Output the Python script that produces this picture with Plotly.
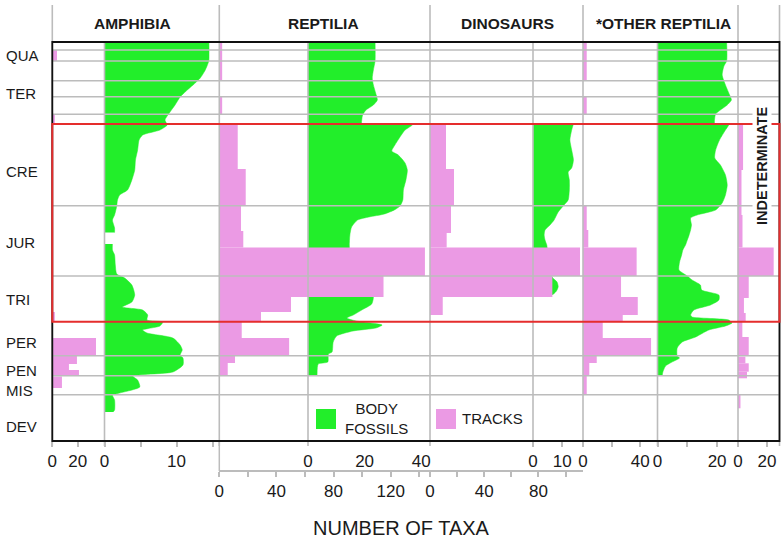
import plotly.graph_objects as go

FIG_W, FIG_H = 782, 543
FONT = "Liberation Sans, Arial, Helvetica, sans-serif"
GREEN = "#22ee2a"
PINK = "#eb9ae4"
GRID = "#bcbcbc"
RED = "#e52d2d"
INK = "#1a1a1a"

# ---------------- stratigraphic column (level 0 = top, 399 = base) ----------------
periods = ["QUA", "TER", "CRE", "JUR", "TRI", "PER", "PEN", "MIS", "DEV"]
period_label_levels = [13.5, 51, 129.5, 200.5, 257, 300.5, 328, 348, 384.5]
interval_boundaries = [8, 19, 38.7, 54.7, 72.3, 163.7, 234, 313.7, 333.7, 352.7]
mesozoic_top = 82
mesozoic_base = 279.7
column_base = 399

# ---------------- body fossils: number of taxa through the column ----------------
amphibia_body_levels_upper = [0, 18, 21, 28, 36, 43, 48, 55, 63, 70, 78, 83, 88, 93, 98, 108, 118, 128,
                              138, 148, 153, 158, 164, 173, 178, 186, 190.5]
amphibia_body_upper = [14.5, 14.5, 14.4, 14.0, 13.3, 12.3, 11.5, 10.5, 9.8, 9.1, 8.4, 8.7, 7.7, 5.3, 4.8,
                       4.6, 4.3, 4.2, 3.8, 3.2, 2.1, 1.8, 1.7, 1.4, 1.1, 1.4, 1.4]
amphibia_body_levels_lower = [202, 208, 213, 223, 232, 236, 243, 253, 260, 265, 268, 273, 278, 280, 284,
                              288, 291, 296, 303, 308, 313, 316, 323, 330, 334, 338, 345, 351, 353, 358,
                              368, 370]
amphibia_body_lower = [1.1, 1.1, 1.4, 1.5, 1.7, 2.8, 3.8, 4.2, 3.8, 2.5, 5.3, 6.0, 5.9, 8.1, 7.7, 5.3, 5.9,
                       9.5, 10.5, 10.8, 10.5, 10.9, 10.9, 9.5, 3.9, 4.6, 4.9, 2.1, 1.1, 1.4, 1.4, 1.2]

reptilia_body_levels = [0, 19, 28, 36, 43, 51, 58, 63, 68, 73, 78, 81.5, 82.5, 88, 95, 103, 109, 113, 121,
                        128, 138, 148, 158, 164, 168, 172, 175, 178, 185, 193, 204, 215, 230, 240, 255,
                        262, 268, 273, 276, 279, 283, 286, 289, 294, 300, 310, 312, 320, 322, 333]
reptilia_body = [23.7, 23.7, 23.1, 22.7, 23.1, 23.9, 24.5, 23.1, 20.5, 19.3, 19.0, 19.0, 37, 34.3, 32.5,
                 30.7, 29.6, 31.9, 34.3, 35.1, 34.6, 33.7, 33.5, 32.5, 30.5, 27, 21.5, 17.5, 15.4, 14.8,
                 14.6, 15, 17, 21, 23.1, 22.5, 19, 16, 13.7, 17, 26.2, 24, 15.9, 10.1, 8.9, 8.5, 7.2, 7.0,
                 3.6, 3.2]

dinosaur_body_levels = [82, 88, 98, 108, 118, 126, 130, 138, 148, 158, 164, 170, 178, 183, 188, 193, 198,
                        203, 210, 220, 230, 236, 240, 244.7, 249, 252, 254.5]
dinosaur_body = [13.8, 13.2, 12.6, 13.2, 13.8, 13.2, 12.0, 12.4, 12.4, 12.0, 10.3, 8.6, 7.2, 5.8, 4.1, 3.8,
                 4.1, 4.7, 5.0, 5.0, 5.5, 6.8, 8.2, 8.6, 8.0, 7.0, 5.0]

other_body_levels = [0, 19, 24, 33, 43, 53, 58, 63, 68, 72, 76, 81.5, 82.5, 88, 98, 108, 116, 123, 133,
                     143, 153, 161, 168, 173, 176, 183, 188, 194, 198, 203, 208, 213, 220, 228, 234, 238,
                     243, 248, 253, 258, 263, 268, 273, 275, 278, 281, 284, 288, 295, 300, 306, 314, 316,
                     320, 324, 330, 333]
other_body = [23.2, 23.2, 22.3, 21.7, 22.8, 24.2, 24.8, 23.4, 21.1, 19.5, 19.2, 19.2, 23.9, 22.8, 20.8,
              19.5, 19.2, 21.1, 22.8, 23.4, 22.8, 21.7, 19.5, 13.3, 11.1, 11.4, 11.1, 10.5, 10.0, 9.4,
              8.5, 8.1, 7.4, 7.2, 10.0, 11.6, 14.4, 14.8, 20.6, 20.6, 17.8, 12.2, 11.1, 11.6, 23.9, 25.0,
              22.8, 17.2, 12.8, 8.3, 6.6, 6.6, 7.4, 4.9, 2.7, 1.8, 1.6]

# ---------------- tracks: counts per stratigraphic bin ----------------
amphibia_track_top = [8, 72.3, 270, 296, 313.7, 322, 328, 334.5]
amphibia_track_base = [19, 82, 279.7, 313.7, 322, 328, 333.7, 346]
amphibia_tracks = [3.7, 2, 2, 34.4, 19.4, 13.1, 21, 7.6]

reptilia_track_top = [0, 54.7, 82, 127, 163.7, 189, 205.5, 234, 255, 270, 279.7, 296, 313.7, 321]
reptilia_track_base = [38.7, 72.3, 127, 163.7, 189, 205.5, 234, 255, 270, 279.7, 296, 313.7, 321, 333]
reptilia_tracks = [2, 2, 12.9, 18.5, 15.2, 16.8, 144, 115, 50.2, 29.2, 15.7, 48.9, 11, 5.9]

dinosaur_track_top = [82, 127, 163.7, 191, 205.5, 234, 255]
dinosaur_track_base = [127, 163.7, 191, 205.5, 234, 255, 273]
dinosaur_tracks = [11.8, 17.7, 15.5, 12.3, 110.7, 90.3, 9.4]

other_track_top = [0, 54.7, 163.7, 188, 205.5, 234, 255, 273, 279.7, 296, 313.7, 321, 334]
other_track_base = [38.7, 72.3, 188, 205.5, 234, 255, 273, 279.7, 296, 313.7, 321, 333.7, 353]
other_tracks = [2.6, 2.6, 2.6, 3.7, 37.5, 26.6, 38.3, 27.8, 13.8, 47.6, 9.6, 4.4, 2.6]

indet_track_top = [82, 128, 173, 205.5, 234, 256, 271, 279.7, 295, 314.7, 321.3, 329.7, 353]
indet_track_base = [128, 173, 205.5, 234, 256, 271, 279.7, 295, 313, 321.3, 329.7, 336.3, 366.3]
indet_tracks = [3.5, 2.4, 3.1, 24.6, 7.4, 4.1, 5.3, 3.0, 7.4, 5.1, 7.4, 6.2, 1.7]

panel_titles = ["AMPHIBIA", "REPTILIA", "DINOSAURS", "*OTHER REPTILIA"]


# ---------------- page geometry (pixels) ----------------
def fx(px):
    return px / FIG_W


def fy(py):
    return 1 - py / FIG_H


PLOT_TOP, PLOT_BOTTOM, HEAD_TOP, LOW_AXIS = 42, 441, 5, 471
PANEL_EDGES = [52.3, 219.3, 430, 583, 738, 779.5]
BODY_ZEROS = [104.5, 308, 533, 657.5]


def axis(left, right, px_per_unit, tickvals, ticktext, low=False, hide_ticks=False):
    d = dict(domain=[fx(left), fx(right)], range=[0, (right - left) / px_per_unit],
             tickmode="array", tickvals=tickvals, ticktext=ticktext,
             ticks="outside", ticklen=5, tickwidth=1.5,
             tickcolor="rgba(0,0,0,0)" if hide_ticks else GRID,
             tickfont=dict(family=FONT, size=17, color=INK),
             showgrid=False, zeroline=False, showline=False, fixedrange=True, automargin=False)
    if low:
        d.update(anchor="free", position=fy(LOW_AXIS), showline=True, linecolor=GRID, linewidth=1.5)
    else:
        d.update(anchor="y")
    return d


# body-fossil axes first so the track bars are layered above them
axes = {
    "xaxis": axis(BODY_ZEROS[0], PANEL_EDGES[1], 7.2, [0, 5, 10, 15], ["0", "", "10", ""]),
    "xaxis2": axis(BODY_ZEROS[1], PANEL_EDGES[2], 2.83, [0, 20, 40], ["0", "20", "40"], hide_ticks=True),
    "xaxis3": axis(BODY_ZEROS[2], PANEL_EDGES[3], 2.93, [0, 10], ["0", "10"]),
    "xaxis4": axis(BODY_ZEROS[3], PANEL_EDGES[4], 2.98, [0, 10, 20], ["0", "", "20"]),
    "xaxis5": axis(PANEL_EDGES[0], PANEL_EDGES[1], 1.27, [0, 20], ["0", "20"]),
    "xaxis6": axis(PANEL_EDGES[1], PANEL_EDGES[2], 1.428, list(range(0, 141, 20)),
                   ["0", "", "40", "", "80", "", "120", ""], low=True),
    "xaxis7": axis(PANEL_EDGES[2], PANEL_EDGES[3], 1.355, list(range(0, 101, 20)),
                   ["0", "", "40", "", "80", ""], low=True),
    "xaxis8": axis(PANEL_EDGES[3], PANEL_EDGES[4], 1.43, [0, 20, 40], ["0", "", "40"]),
    "xaxis9": axis(PANEL_EDGES[4], PANEL_EDGES[5], 1.45, [0, 20], ["0", "20"]),
}


def body_trace(levels, values, xa):
    return go.Scatter(x=values, y=levels, xaxis=xa, yaxis="y", mode="lines", fill="tozerox",
                      fillcolor=GREEN, line=dict(color=GREEN, width=0.5, shape="spline", smoothing=0.6),
                      hoverinfo="skip", showlegend=False)


def track_trace(tops, bases, counts, xa):
    centers = [(t + b) / 2 for t, b in zip(tops, bases)]
    heights = [b - t for t, b in zip(tops, bases)]
    return go.Bar(x=counts, y=centers, width=heights, orientation="h", base=0, xaxis=xa, yaxis="y",
                  marker=dict(color=PINK, line=dict(width=0)), hoverinfo="skip", showlegend=False)


fig = go.Figure()
fig.add_trace(body_trace(amphibia_body_levels_upper, amphibia_body_upper, "x"))
fig.add_trace(body_trace(amphibia_body_levels_lower, amphibia_body_lower, "x"))
fig.add_trace(body_trace(reptilia_body_levels, reptilia_body, "x2"))
fig.add_trace(body_trace(dinosaur_body_levels, dinosaur_body, "x3"))
fig.add_trace(body_trace(other_body_levels, other_body, "x4"))
fig.add_trace(track_trace(amphibia_track_top, amphibia_track_base, amphibia_tracks, "x5"))
fig.add_trace(track_trace(reptilia_track_top, reptilia_track_base, reptilia_tracks, "x6"))
fig.add_trace(track_trace(dinosaur_track_top, dinosaur_track_base, dinosaur_tracks, "x7"))
fig.add_trace(track_trace(other_track_top, other_track_base, other_tracks, "x8"))
fig.add_trace(track_trace(indet_track_top, indet_track_base, indet_tracks, "x9"))

shapes = []
# interval boundaries across all panels
for lv in interval_boundaries:
    shapes.append(dict(type="line", xref="paper", yref="y", x0=fx(PANEL_EDGES[0]), x1=fx(PANEL_EDGES[-1]),
                       y0=lv, y1=lv, line=dict(color=GRID, width=1.6), layer="above"))
# panel separators reaching into the header band
for px in PANEL_EDGES:
    shapes.append(dict(type="line", xref="paper", yref="paper", x0=fx(px), x1=fx(px),
                       y0=fy(PLOT_BOTTOM + 5), y1=fy(HEAD_TOP), line=dict(color=GRID, width=1.6), layer="above"))
# zero lines of the body-fossil scales
for px in BODY_ZEROS:
    shapes.append(dict(type="line", xref="paper", yref="paper", x0=fx(px), x1=fx(px),
                       y0=fy(PLOT_BOTTOM + 5), y1=fy(PLOT_TOP), line=dict(color=GRID, width=1.6), layer="above"))
# link from the main frame to the lower track scale
shapes.append(dict(type="line", xref="paper", yref="paper", x0=fx(PANEL_EDGES[1]), x1=fx(PANEL_EDGES[1]),
                   y0=fy(LOW_AXIS), y1=fy(PLOT_BOTTOM), line=dict(color=GRID, width=1.5), layer="above"))
# frame
shapes.append(dict(type="rect", xref="paper", yref="paper", x0=fx(PANEL_EDGES[0]), x1=fx(PANEL_EDGES[-1]),
                   y0=fy(PLOT_BOTTOM), y1=fy(PLOT_TOP), line=dict(color="#111111", width=1.8), layer="above"))
# Mesozoic box
shapes.append(dict(type="rect", xref="paper", yref="y", x0=fx(PANEL_EDGES[0]), x1=fx(PANEL_EDGES[-1]),
                   y0=mesozoic_top, y1=mesozoic_base, line=dict(color=RED, width=2), layer="above"))
# legend swatches
shapes.append(dict(type="rect", xref="paper", yref="paper", x0=fx(316), x1=fx(336), y0=fy(429), y1=fy(409),
                   fillcolor=GREEN, line=dict(width=0), layer="above"))
shapes.append(dict(type="rect", xref="paper", yref="paper", x0=fx(436), x1=fx(456), y0=fy(429), y1=fy(409),
                   fillcolor=PINK, line=dict(width=0), layer="above"))

annotations = []
for name, lv in zip(periods, period_label_levels):
    annotations.append(dict(text=name, xref="paper", yref="y", x=fx(4), y=lv, xanchor="left",
                            yanchor="middle", showarrow=False, font=dict(family=FONT, size=15, color=INK)))
for title, cx in zip(panel_titles, [132, 323, 507, 663]):
    annotations.append(dict(text="<b>%s</b>" % title, xref="paper", yref="paper", x=fx(cx), y=fy(23),
                            xanchor="center", yanchor="middle", showarrow=False,
                            font=dict(family=FONT, size=15.5, color=INK)))
annotations.append(dict(text="<b>INDETERMINATE</b>", xref="paper", yref="paper", x=fx(762), y=fy(166),
                        textangle=-90, xanchor="center", yanchor="middle", showarrow=False, bgcolor="white",
                        font=dict(family=FONT, size=14.5, color=INK)))
annotations.append(dict(text="BODY<br>FOSSILS", xref="paper", yref="paper", x=fx(376.5), y=fy(418),
                        xanchor="center", yanchor="middle", showarrow=False,
                        font=dict(family=FONT, size=15, color=INK)))
annotations.append(dict(text="TRACKS", xref="paper", yref="paper", x=fx(460), y=fy(418.5),
                        xanchor="left", yanchor="middle", showarrow=False,
                        font=dict(family=FONT, size=15, color=INK)))
annotations.append(dict(text="NUMBER OF TAXA", xref="paper", yref="paper", x=fx(401), y=fy(528),
                        xanchor="center", yanchor="middle", showarrow=False,
                        font=dict(family=FONT, size=20, color=INK)))

fig.update_layout(
    width=FIG_W, height=FIG_H, margin=dict(l=0, r=0, t=0, b=0, pad=0, autoexpand=False),
    paper_bgcolor="white", plot_bgcolor="rgba(0,0,0,0)",
    barmode="overlay", showlegend=False,
    yaxis=dict(domain=[fy(PLOT_BOTTOM), fy(PLOT_TOP)], range=[column_base, 0], showticklabels=False,
               ticks="", showgrid=False, zeroline=False, showline=False, fixedrange=True, automargin=False),
    shapes=shapes, annotations=annotations,
    **axes,
)

fig.write_html("out.html")
